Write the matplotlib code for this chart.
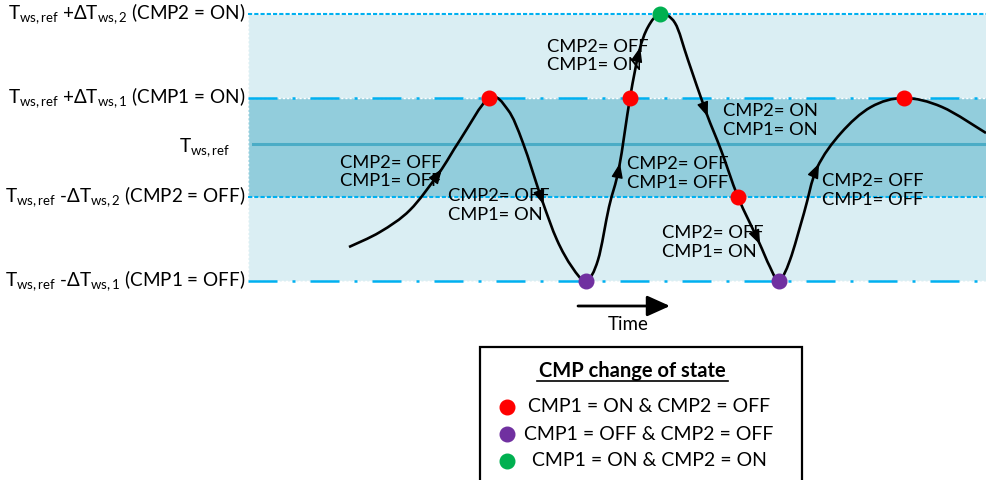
import numpy as np
import matplotlib
matplotlib.use("Agg")
import matplotlib.pyplot as plt
from matplotlib.path import Path
from matplotlib.patches import PathPatch, Rectangle

plt.rcParams["font.family"] = ["Lato", "DejaVu Sans"]
plt.rcParams["mathtext.fontset"] = "custom"
plt.rcParams["mathtext.rm"] = "Lato"
plt.rcParams["mathtext.it"] = "Lato:italic"
plt.rcParams["mathtext.bf"] = "Lato:bold"

# ── thresholds (temperature relative to T_ws,ref, arbitrary units) ──────────
T_REF = 0.0
UP_2 = 1.30     # T_ws,ref + dT_ws,2  -> CMP2 ON
UP_1 = 0.46     # T_ws,ref + dT_ws,1  -> CMP1 ON
DOWN_2 = -0.53  # T_ws,ref - dT_ws,2  -> CMP2 OFF
DOWN_1 = -1.37  # T_ws,ref - dT_ws,1  -> CMP1 OFF

# ── supply temperature trajectory (knots) ───────────────────────────────────
TIME = [10.1, 13.2, 16.2, 19.1, 21.2, 24.1, 26.0, 27.5, 29.4, 30.9, 32.4, 33.8,
        35.0, 36.1, 37.1, 38.2, 39.1, 40.0, 41.2, 42.7, 44.0, 45.8, 47.3, 49.0,
        51.0, 52.2, 53.1, 54.2, 55.6, 56.9, 59.3, 62.3, 65.6, 69.4, 73.8]
TEMP = [-1.03, -0.88, -0.66, -0.29, 0.04, 0.46, 0.34, 0.01, -0.56, -0.96, -1.23, -1.37,
        -1.16, -0.63, -0.24, 0.46, 0.92, 1.17, 1.30, 1.21, 0.84, 0.32, -0.06, -0.53,
        -0.96, -1.23, -1.37, -1.16, -0.69, -0.24, 0.11, 0.37, 0.46, 0.37, 0.11]
ARROW_IDX = [3, 8, 14, 16, 21, 24, 29]

# state changes
ON_OFF_T, ON_OFF_Y = [24.1, 38.2, 49.0, 65.6], [0.46, 0.46, -0.53, 0.46]
OFF_OFF_T, OFF_OFF_Y = [33.8, 53.1], [-1.37, -1.37]
ON_ON_T, ON_ON_Y = [41.2], [1.30]

STATE_LABELS = [
    ("CMP2= OFF", "CMP1= OFF"),
    ("CMP2= OFF", "CMP1= ON"),
    ("CMP2= OFF", "CMP1= ON"),
    ("CMP2= OFF", "CMP1= OFF"),
    ("CMP2= ON", "CMP1= ON"),
    ("CMP2= OFF", "CMP1= ON"),
    ("CMP2= OFF", "CMP1= OFF"),
]
STATE_POS = [(9.2, -0.28), (20.0, -0.615), (29.9, 0.88), (37.9, -0.295),
             (47.5, 0.235), (41.4, -0.985), (57.4, -0.465)]

LEVEL_LABELS = [
    (UP_2, r"T$_\mathregular{ws,ref}$ +ΔT$_\mathregular{ws,2}$ (CMP2 = ON)"),
    (UP_1, r"T$_\mathregular{ws,ref}$ +ΔT$_\mathregular{ws,1}$ (CMP1 = ON)"),
    (DOWN_2, r"T$_\mathregular{ws,ref}$ -ΔT$_\mathregular{ws,2}$ (CMP2 = OFF)"),
    (DOWN_1, r"T$_\mathregular{ws,ref}$ -ΔT$_\mathregular{ws,1}$ (CMP1 = OFF)"),
]

LEGEND_ITEMS = [
    ("#ff0000", "CMP1 = ON & CMP2 = OFF"),
    ("#7030a0", "CMP1 = OFF & CMP2 = OFF"),
    ("#00b050", "CMP1 = ON & CMP2 = ON"),
]

LINE_BLUE = "#00b0f0"
LIGHT_FILL = "#daeef3"
DARK_FILL = "#92cddc"
REF_LINE = "#4bacc6"


def smooth_path(xs, ys):
    """Catmull-Rom through the knots, returned as a cubic Bezier Path."""
    p = np.column_stack([xs, ys])
    verts = [p[0]]
    codes = [Path.MOVETO]
    n = len(p)
    for i in range(n - 1):
        p0 = p[i - 1] if i > 0 else p[i]
        p3 = p[i + 2] if i + 2 < n else p[i + 1]
        c1 = p[i] + (p[i + 1] - p0) / 6
        c2 = p[i + 1] - (p3 - p[i]) / 6
        verts += [c1, c2, p[i + 1]]
        codes += [Path.CURVE4] * 3
    return Path(verts, codes)


fig = plt.figure(figsize=(9.86, 4.80), dpi=100)
ax = fig.add_axes([0, 0, 1, 1])
ax.set_xlim(-24.8, 73.8)
ax.set_ylim(-3.36, 1.44)
ax.axis("off")

# bands
ax.add_patch(Rectangle((0, DOWN_1), 80, UP_2 - DOWN_1, facecolor=LIGHT_FILL,
                       edgecolor="white", lw=1, ls=(0, (1.5, 1.5)), zorder=0))
ax.add_patch(Rectangle((0, DOWN_2), 80, UP_1 - DOWN_2, facecolor=DARK_FILL,
                       edgecolor="white", lw=1, ls=(0, (1.5, 1.5)), zorder=0.5))

# threshold lines
dashdot = (0, (11.6, 6, 1.2, 6))
dotted = (0, (2, 1))
ax.plot([0, 80], [UP_2, UP_2], color=LINE_BLUE, lw=1.5, ls=dotted, zorder=1)
ax.plot([0, 80], [DOWN_2, DOWN_2], color=LINE_BLUE, lw=1.5, ls=dotted, zorder=1)
ax.plot([0, 80], [UP_1, UP_1], color=LINE_BLUE, lw=1.8, ls=dashdot, zorder=1)
ax.plot([0, 80], [DOWN_1, DOWN_1], color=LINE_BLUE, lw=1.8, ls=dashdot, zorder=1)
ax.plot([0.5, 80], [T_REF, T_REF], color=REF_LINE, lw=2.2, zorder=1)

# level labels
for y, lab in LEVEL_LABELS:
    ax.text(-0.3, y, lab, ha="right", va="center", fontsize=13.6)
ax.text(-1.8, T_REF - 0.04, r"T$_\mathregular{ws,ref}$", ha="right", va="center",
        fontsize=13.6)

# trajectory
ax.add_patch(PathPatch(smooth_path(TIME, TEMP), facecolor="none", edgecolor="black",
                       lw=1.9, zorder=3))
for i in ARROW_IDX:
    d = np.array([TIME[i + 1] - TIME[i - 1], TEMP[i + 1] - TEMP[i - 1]])
    d = d / np.hypot(d[0], d[1] * 10)
    tip = (TIME[i] + 0.5 * d[0], TEMP[i] + 0.5 * d[1])
    tail = (TIME[i] - 0.5 * d[0], TEMP[i] - 0.5 * d[1])
    ax.annotate("", xy=tip, xytext=tail,
                arrowprops=dict(arrowstyle="-|>,head_length=0.9,head_width=0.35",
                                color="black", lw=1, shrinkA=0, shrinkB=0,
                                mutation_scale=10), zorder=4)

# state-change markers
ax.plot(ON_OFF_T, ON_OFF_Y, "o", color="#ff0000", ms=10.5, zorder=5)
ax.plot(OFF_OFF_T, OFF_OFF_Y, "o", color="#7030a0", ms=10.5, zorder=5)
ax.plot(ON_ON_T, ON_ON_Y, "o", color="#00b050", ms=10.5, zorder=5)

# state annotations
for (l1, l2), (x, y) in zip(STATE_LABELS, STATE_POS):
    ax.text(x, y, l1 + "\n" + l2, ha="left", va="center", fontsize=13.2,
            linespacing=1.18, zorder=6)

# time arrow
ax.annotate("", xy=(42.2, -1.62), xytext=(33.0, -1.62),
            arrowprops=dict(arrowstyle="-|>,head_length=1.0,head_width=0.45",
                            color="black", lw=2, shrinkA=0, shrinkB=0,
                            mutation_scale=14))
ax.text(38.0, -1.80, "Time", ha="center", va="center", fontsize=13.5)

# legend box
ax.add_patch(Rectangle((23.2, -3.6), 32.2, 1.57, facecolor="white",
                       edgecolor="black", lw=1.6, zorder=2))
ax.text(38.4, -2.27, "CMP change of state", ha="center", va="center",
        fontsize=14.5, fontweight="bold")
ax.plot([28.9, 48.0], [-2.37, -2.37], color="black", lw=1.2)
for k, (c, lab) in enumerate(LEGEND_ITEMS):
    y = -2.63 - 0.27 * k
    ax.plot([25.9], [y], "o", color=c, ms=10.5)
    ax.text(40.1, y, lab, ha="center", va="center", fontsize=14)

fig.savefig("out.png", dpi=100)
